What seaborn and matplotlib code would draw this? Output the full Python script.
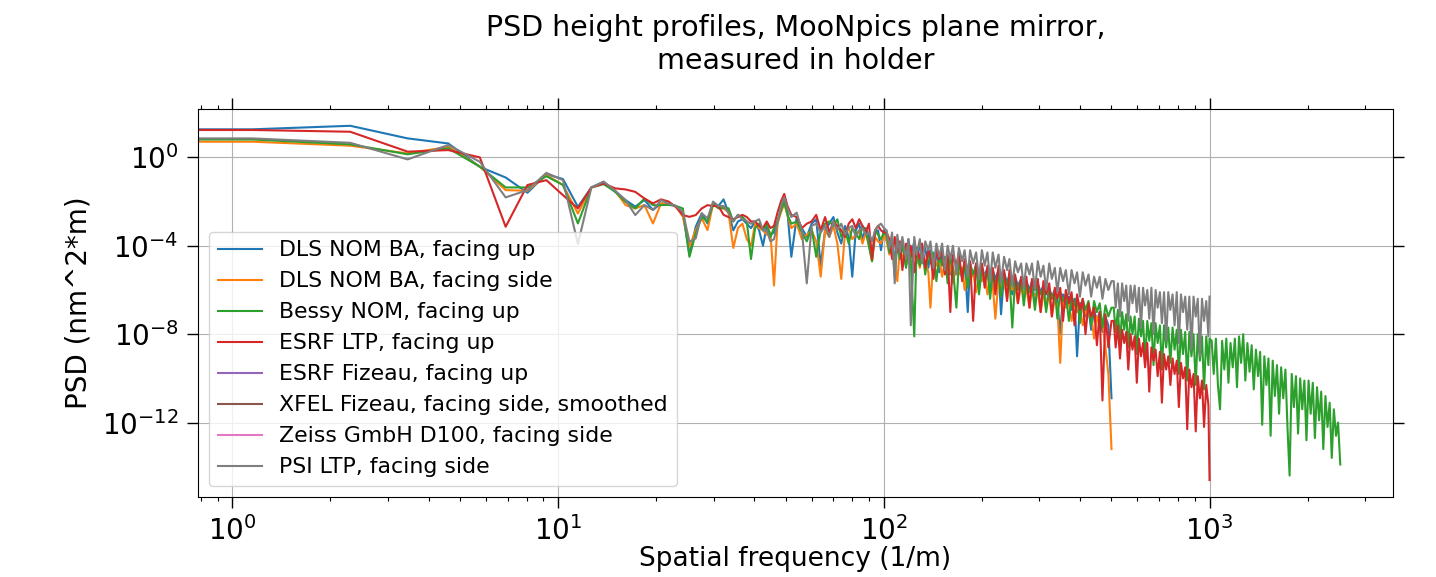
import numpy as np
import pandas as pd
import seaborn as sns
import matplotlib
matplotlib.use("Agg")
import matplotlib.pyplot as plt
from matplotlib.ticker import NullLocator

# spatial frequency grid (1/m); first point is f = 0
freq_low = [0, 1.15, 2.3, 3.45, 4.6, 5.75, 6.9, 8.05, 9.2, 10.35, 11.5, 12.65, 13.8,
            14.95, 16.1, 17.25, 18.4, 19.55, 20.7, 21.85, 23.0, 24.15, 25.3, 26.45, 27.6]
freq_mid = [28.75, 29.9, 31.05, 32.2, 33.35, 34.5, 35.65, 36.8, 37.95, 39.1, 40.25, 41.4,
            42.55, 43.7, 44.85, 46.0, 47.15, 48.3, 49.45, 50.6]
freq_band = [52, 54, 56, 58, 60, 62, 64, 66, 68, 70, 72, 74, 76, 78, 80, 82, 84, 86, 88,
             90, 92, 94, 96, 98, 100]
freq_high = [102, 104, 106, 108, 110, 112, 114, 117, 119, 121,
             124, 126, 129, 131, 134, 137, 139, 142, 145, 148,
             151, 154, 157, 160, 163, 167, 170, 174, 177, 181,
             184, 188, 192, 196, 200, 204, 208, 212, 216, 220,
             225, 229, 234, 239, 243, 248, 253, 258, 264, 269,
             274, 280, 285, 291, 297, 303, 309, 315, 322, 328,
             335, 341, 348, 355, 362, 370, 377, 385, 392, 400,
             408, 416, 425, 433, 442, 451, 460, 469, 479, 489, 500]
freq_far = [508, 515, 523, 531, 539, 547, 555, 563, 572, 580,
            589, 598, 607, 616, 625, 634, 644, 653, 663, 673,
            683, 693, 704, 714, 725, 736, 747, 758, 770, 781,
            793, 805, 817, 829, 842, 854, 867, 880, 893, 907,
            920, 934, 948, 962, 977, 992, 1000]
freq_end = [1015, 1030, 1046, 1061, 1077, 1093, 1110, 1126, 1143, 1160,
            1178, 1196, 1214, 1232, 1250, 1269, 1288, 1307, 1327, 1347,
            1367, 1388, 1409, 1430, 1451, 1473, 1495, 1517, 1540, 1563,
            1587, 1611, 1635, 1659, 1684, 1710, 1735, 1761, 1788, 1815,
            1842, 1870, 1898, 1926, 1955, 1984, 2014, 2044, 2075, 2106,
            2138, 2170, 2202, 2235, 2269, 2303, 2338, 2373, 2408, 2445,
            2481, 2520]
freq = freq_low + freq_mid + freq_band + freq_high + freq_far + freq_end

labels = ["DLS NOM BA, facing up", "DLS NOM BA, facing side", "Bessy NOM, facing up",
          "ESRF LTP, facing up", "ESRF Fizeau, facing up",
          "XFEL Fizeau, facing side, smoothed", "Zeiss GmbH D100, facing side",
          "PSI LTP, facing side"]

# log10 of PSD (nm^2*m)
dls_up = [1.27, 1.27, 1.43, 0.86, 0.63, -0.43, -0.91, -1.6, -0.76, -0.98, -2.24, -1.36, -1.1,
          -1.55, -1.93, -2.23, -1.93, -2.38, -2.08, -2.1, -2.2, -2.53, -4.42, -3.14, -2.53,
          -2.99, -2.1, -2.2, -1.9, -2.5, -3.3, -2.9, -2.8, -3.0, -3.2, -2.9, -3.3, -4.0, -3.1,
          -3.5, -3.4, -2.9, -2.4, -2.0, -2.5,
          -4.5, -2.7, -3.2, -3.6, -3.0, -2.8, -4.9, -3.3, -3.0, -2.7, -3.4, -3.9, -3.1, -3.6,
          -5.4, -3.3, -3.0, -3.7, -3.2, -3.6, -4.5, -3.4, -3.3, -4.2, -3.3,
          -3.6, -4.2, -3.7, -4.7, -3.8, -4.4, -3.9, -4.9, -3.7, -4.5,
          -3.8, -4.8, -3.9, -4.4, -4.1, -5.0, -4.2, -4.6, -4.3, -5.2,
          -4.4, -4.8, -4.5, -5.3, -4.5, -4.9, -4.6, -5.5, -4.7, -7.0,
          -4.8, -5.4, -4.8, -5.8, -4.9, -5.4, -5.0, -6.0, -5.1, -5.5,
          -5.1, -7.1, -5.2, -5.7, -5.3, -6.2, -5.4, -5.8, -5.5, -6.4,
          -5.6, -6.0, -5.6, -6.6, -5.7, -6.1, -5.8, -6.8, -5.9, -6.3,
          -6.0, -6.5, -8.0, -6.2, -6.7, -6.3, -6.9, -6.4, -9.0, -6.6,
          -6.6, -7.2, -6.8, -7.8, -6.9, -7.4, -7.0, -7.9, -7.2, -7.6, -10.9]

dls_side = [0.71, 0.71, 0.53, 0.18, 0.48, -0.42, -1.48, -1.51, -0.8, -1.25, -2.54, -1.36, -1.15,
            -1.5, -2.16, -2.31, -2.16, -2.99, -2.08, -2.1, -2.2, -2.69, -4.04, -3.29, -2.76,
            -3.29, -2.1, -2.3, -2.3, -2.5, -4.1, -3.2, -3.0, -3.7, -4.0, -3.0, -3.2, -3.3, -3.5,
            -3.4, -5.8, -3.0, -2.5, -2.1, -2.6,
            -3.2, -3.0, -3.7, -3.5, -3.3, -3.8, -5.4, -3.3, -3.6, -3.1, -3.9, -5.5, -3.4, -3.2,
            -3.7, -3.5, -3.3, -3.9, -3.4, -4.0, -4.7, -3.6, -3.8, -3.9, -3.5,
            -3.8, -4.4, -3.9, -4.9, -5.6, -4.1, -4.6, -4.0, -4.8, -4.2,
            -4.5, -4.3, -5.0, -4.3, -4.7, -5.2, -6.8, -4.5, -4.9, -4.6,
            -5.4, -4.7, -5.1, -4.8, -5.7, -4.9, -5.3, -5.0, -6.0, -5.1,
            -5.5, -5.2, -6.1, -5.3, -5.6, -5.3, -6.2, -5.4, -5.8, -7.3,
            -5.5, -5.9, -5.6, -6.4, -5.7, -6.0, -5.8, -6.6, -5.8, -6.2,
            -5.9, -6.8, -6.0, -6.3, -6.1, -7.0, -6.2, -6.5, -6.3, -7.2,
            -6.4, -6.7, -9.3, -6.5, -6.8, -6.6, -7.4, -6.7, -7.0, -6.8,
            -7.6, -6.9, -7.2, -7.1, -8.2, -7.2, -7.6, -7.4, -8.6, -9.8, -13.2]

bessy_up = [0.81, 0.81, 0.59, 0.14, 0.41, -0.42, -1.36, -1.36, -0.85, -1.25, -2.99, -1.36, -1.21,
            -1.55, -2.01, -2.31, -1.86, -2.16, -2.16, -2.15, -2.2, -2.31, -4.5, -3.44, -2.69,
            -2.91, -2.1, -2.3, -2.3, -2.3, -2.9, -2.6, -2.7, -2.9, -4.6, -3.2, -3.0, -3.3, -3.0,
            -3.6, -3.2, -2.9, -2.4, -2.0, -2.6,
            -3.0, -2.9, -3.4, -3.8, -3.2, -4.5, -3.3, -3.0, -2.9, -3.1, -2.8, -3.6, -3.3, -3.9,
            -3.2, -3.4, -3.7, -3.1, -3.3, -4.0, -4.7, -3.3, -3.5, -3.7, -3.4,
            -3.5, -4.3, -3.7, -5.4, -3.8, -4.6, -3.9, -5.0, -4.0, -4.7,
            -8.1, -4.1, -4.9, -4.0, -5.3, -4.2, -4.8, -4.3, -5.6, -4.4,
            -4.9, -4.5, -5.7, -4.5, -5.0, -6.8, -4.7, -5.4, -4.8, -5.9,
            -4.8, -5.3, -4.9, -6.2, -5.0, -5.6, -5.1, -6.4, -5.2, -5.7,
            -5.3, -6.3, -5.3, -5.8, -5.4, -7.7, -5.5, -6.0, -5.6, -6.7,
            -5.7, -6.1, -5.8, -6.9, -5.8, -6.2, -5.9, -7.0, -6.0, -6.4,
            -6.0, -7.3, -6.1, -6.5, -6.2, -7.4, -6.3, -6.7, -6.3, -7.5,
            -6.4, -6.9, -6.5, -7.6, -6.5, -7.0, -6.6, -7.7, -6.7, -7.2, -6.8,
            -6.8, -7.9, -6.9, -8.4, -7.0, -7.8, -7.1, -8.6, -7.2, -8.0,
            -7.2, -8.9, -7.3, -8.1, -7.4, -9.2, -7.4, -8.3, -7.5, -9.4,
            -7.5, -8.4, -7.6, -9.6, -7.6, -8.6, -7.7, -9.3, -7.7, -8.7,
            -7.8, -9.8, -7.8, -8.9, -7.9, -10.1, -7.9, -9.0, -8.0, -10.3,
            -8.0, -9.2, -8.1, -10.5, -8.1, -9.4, -8.2,
            -8.3, -9.8, -8.2, -10.3, -11.4, -8.3, -9.6, -8.2, -10.2, -8.4,
            -9.5, -8.2, -10.4, -8.1, -9.3, -8.0, -10.1, -8.4, -9.7, -8.5,
            -10.5, -8.7, -9.9, -8.8, -12.1, -9.0, -10.3, -9.1, -12.6, -9.2,
            -10.8, -9.4, -11.6, -9.5, -10.9, -9.6, -12.2, -14.4, -9.8, -11.3,
            -9.9, -12.5, -10.0, -11.4, -10.1, -12.8, -10.1, -11.6, -10.2, -12.7,
            -10.4, -11.9, -10.6, -13.2, -10.8, -12.2, -11.1, -13.6, -11.4, -12.6,
            -12.0, -13.9]

esrf_ltp = [1.24, 1.24, 1.16, 0.26, 0.33, 0.0, -3.14, -1.25, -1.03, -1.71, -2.31, -1.36, -1.18,
            -1.4, -1.45, -1.56, -1.86, -2.08, -1.9, -2.0, -2.25, -2.61, -2.69, -2.61, -2.31,
            -2.16, -2.2, -2.2, -2.6, -2.7, -2.8, -2.7, -2.6, -2.7, -2.9, -2.9, -3.1, -3.2, -2.9,
            -3.2, -3.1, -2.5, -2.0, -1.65, -2.2,
            -2.6, -2.7, -3.2, -3.0, -2.9, -2.6, -3.3, -2.7, -3.4, -2.9, -3.1, -3.3, -3.6, -3.0,
            -2.8, -3.2, -2.8, -3.1, -3.4, -3.0, -4.6, -3.3, -3.1, -3.3, -3.4,
            -3.4, -3.7, -4.6, -3.6, -4.3, -3.8, -5.1, -3.9, -4.4, -4.0,
            -5.2, -4.1, -4.6, -3.9, -5.0, -4.2, -4.5, -5.5, -4.2, -4.6,
            -4.2, -5.3, -4.4, -7.0, -4.4, -4.9, -4.3, -5.6, -4.6, -5.1,
            -4.7, -7.4, -4.8, -5.4, -4.8, -5.9, -4.9, -5.3, -5.0, -6.2,
            -4.9, -5.6, -5.1, -6.5, -5.1, -5.7, -5.3, -6.6, -5.4, -5.9,
            -5.4, -6.8, -5.5, -6.0, -5.5, -7.0, -5.6, -6.2, -5.7, -7.2,
            -5.9, -6.4, -5.9, -7.4, -6.0, -6.6, -6.1, -7.6, -6.2, -6.9,
            -6.4, -8.0, -6.6, -7.2, -6.8, -8.5, -7.0, -11.0, -7.1, -8.6, -7.4,
            -7.4, -8.6, -7.6, -9.1, -7.8, -8.4, -7.9, -9.6, -8.0, -8.7,
            -8.1, -10.2, -8.2, -9.0, -8.4, -9.5, -8.4, -10.6, -8.6, -9.2,
            -8.7, -9.9, -8.8, -11.1, -8.9, -9.6, -9.0, -10.3, -9.1, -9.8,
            -9.2, -11.3, -9.3, -10.0, -9.5, -12.3, -9.6, -10.4, -9.8, -12.4,
            -9.9, -10.9, -10.1, -12.2, -10.3, -11.2, -14.6]

psi_ltp = [0.86, 0.86, 0.66, -0.09, 0.56, -0.2, -1.81, -1.48, -0.7, -1.03, -3.92, -1.36, -1.1,
           -1.5, -1.93, -2.61, -2.16, -2.38, -1.93, -2.1, -2.2, -2.46, -3.82, -3.67, -2.53,
           -2.76, -2.0, -2.2, -2.2, -2.5, -2.9, -2.6, -2.8, -2.9, -3.0, -2.9, -2.8, -3.3, -3.3,
           -3.8, -3.7, -3.0, -2.2, -1.8, -2.3,
           -2.7, -2.5, -3.3, -5.7, -3.1, -3.0, -3.4, -3.1, -3.6, -2.9, -3.3, -3.0, -3.5, -3.2,
           -3.1, -3.6, -3.3, -3.2, -3.5, -3.4, -3.8, -3.3, -3.1, -3.0, -3.2,
           -3.3, -4.1, -3.4, -5.7, -3.5, -4.3, -3.6, -4.6, -3.7, -7.6,
           -3.6, -4.4, -3.7, -4.8, -3.8, -4.2, -3.8, -5.0, -3.9, -4.5,
           -3.9, -5.1, -4.0, -4.6, -4.0, -5.3, -4.1, -4.7, -4.2, -5.4,
           -4.2, -4.8, -4.3, -5.5, -4.2, -4.9, -4.3, -5.6, -4.3, -5.0,
           -4.4, -5.7, -4.5, -5.1, -4.6, -5.8, -4.7, -5.2, -4.8, -5.9,
           -4.8, -5.3, -4.8, -6.0, -4.7, -5.4, -4.9, -6.0, -4.8, -5.5,
           -5.0, -6.1, -5.0, -5.6, -5.1, -6.2, -5.1, -5.7, -5.2, -6.3,
           -5.2, -5.8, -5.3, -6.3, -5.4, -5.9, -5.4, -6.4, -5.5, -6.0, -5.6,
           -5.6, -6.8, -5.7, -7.2, -5.7, -6.5, -5.8, -7.4, -5.8, -6.6,
           -5.8, -7.0, -5.9, -7.7, -5.9, -6.7, -6.0, -7.3, -5.9, -8.0,
           -6.0, -6.8, -6.1, -7.5, -6.1, -8.3, -6.1, -6.9, -6.2, -7.6,
           -6.1, -8.4, -6.2, -7.0, -6.3, -7.8, -6.3, -8.7, -6.3, -7.2,
           -6.4, -9.0, -6.4, -7.4, -6.5, -8.1, -6.3]

# ESRF Fizeau, XFEL Fizeau and Zeiss have no data on this plot
series = [dls_up, dls_side, bessy_up, esrf_ltp, None, None, None, psi_ltp]
colors = sns.color_palette("tab10")

fig, ax = plt.subplots(figsize=(14.36, 5.77), dpi=100)
fig.subplots_adjust(left=0.1379, right=0.9701, bottom=0.1386, top=0.8111)

for name, vals, color in zip(labels, series, colors):
    if vals is None:
        ax.plot([], [], color=color, lw=1.5, label=name)
        continue
    df = pd.DataFrame({"freq": freq[:len(vals)], "psd": 10.0 ** np.array(vals)})
    sns.lineplot(data=df, x="freq", y="psd", ax=ax, color=color, lw=1.5,
                 estimator=None, sort=False, label=name)

ax.set_xscale("log")
ax.set_yscale("log")
ax.set_xlim(0.784, 3660)
ax.set_ylim(10 ** -15.37, 10 ** 2.19)
ax.set_yticks([1e-12, 1e-8, 1e-4, 1e0])
ax.yaxis.set_minor_locator(NullLocator())

ax.tick_params(which="both", direction="out", top=True, right=True, labelsize=20)
ax.tick_params(which="major", length=8, width=1, pad=6)
ax.tick_params(which="minor", length=3, width=0.8)
ax.grid(True, which="major", color="#b0b0b0", linewidth=0.8)

ax.set_title("PSD height profiles, MooNpics plane mirror,\nmeasured in holder",
             fontsize=20.5, pad=29)
ax.set_xlabel("Spatial frequency (1/m)", fontsize=19, labelpad=0)
ax.set_ylabel("PSD (nm^2*m)", fontsize=20, labelpad=7)
ax.legend(loc="lower left", fontsize=15.8)

fig.savefig("out.png", dpi=100)
